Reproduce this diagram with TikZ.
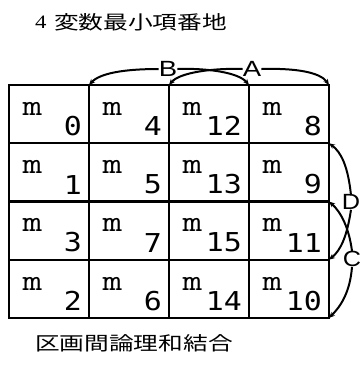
\documentclass[tikz,border=0pt]{standalone}
\usepackage{fontspec}
\setmainfont{Liberation Serif}
\newfontfamily\cjkfont{Noto Sans CJK JP}
\newfontfamily\digfont{DejaVu Sans Mono}
\newfontfamily\letfont{Liberation Sans}
\usetikzlibrary{arrows.meta}
\newcommand\hstretch[2]{\scalebox{#1}[1]{#2}}
\begin{document}
\begin{tikzpicture}[x=1pt,y=-1pt,
  gridline/.style={line width=2.2pt, line cap=rect},
  arcline/.style={line width=2pt, -{Stealth[length=6pt,width=5pt]}},
  mlab/.style={anchor=north west, inner sep=0pt, font=\fontsize{30}{30}\ttfamily},
  dlab/.style={anchor=south east, inner sep=0pt, font=\fontsize{26}{26}\digfont},
  letlab/.style={inner sep=0pt, font=\fontsize{22}{22}\letfont},
  cjklab/.style={anchor=west, inner sep=0pt, font=\fontsize{19}{19}\cjkfont}
]
\useasboundingbox (0,0) rectangle (363,365);
% title and caption
\node[anchor=west, inner sep=0pt, font=\fontsize{19}{19}\selectfont] (four) at (35,22) {\hstretch{1.2}{4}};
\node[cjklab] (title) at (54,22) {\hstretch{1.3}{変数最小項番地}};
\node[cjklab] (caption) at (35,343) {\hstretch{1.3}{区画間論理和結合}};
% grid
\draw[gridline] (9,85) rectangle (329,318);
\foreach \x in {89,169,249} \draw[gridline] (\x,85) -- (\x,318);
\foreach \y in {143.25,201.5,259.75} \draw[gridline] (9,\y) -- (329,\y);
% cell labels
\foreach \n [count=\i from 0] in {0,4,12,8,1,5,13,9,3,7,15,11,2,6,14,10} {
  \pgfmathtruncatemacro\c{mod(\i,4)}
  \pgfmathtruncatemacro\r{int(\i/4)}
  \pgfmathsetmacro\xl{9+80*\c}
  \pgfmathsetmacro\yt{85+58.25*\r}
  \node[mlab] (m\n) at (\xl+13.5,\yt+17) {\hstretch{1.27}{m}};
  \node[dlab] (d\n) at (\xl+73,\yt+51) {\hstretch{1.15}{\n}};
}
% corner coordinates
\coordinate (t1) at (89,85);
\coordinate (t2) at (169,85);
\coordinate (t3) at (249,85);
\coordinate (t4) at (329,85);
\coordinate (r1) at (329,143.25);
\coordinate (r2) at (329,201.5);
\coordinate (r3) at (329,259.75);
\coordinate (r4) at (329,318);
% variable labels
\node[letlab] (B) at (168,69) {\hstretch{1.25}{B}};
\node[letlab] (A) at (252,69) {\hstretch{1.25}{A}};
\node[letlab] (D) at (351,202) {\hstretch{1.15}{D}};
\node[letlab] (C) at (352,259) {\hstretch{1.15}{C}};
% arcs
\draw[arcline] (B.west) .. controls (125,69) and (100,73) .. (t1);
\draw[arcline] (B.east) .. controls (205,68) and (238,72) .. (t3);
\draw[arcline] (A.west) .. controls (215,68) and (180,72) .. (t2);
\draw[arcline] (A.east) .. controls (295,68) and (320,72) .. (t4);
\draw[arcline] ([yshift=-1pt]D.north) .. controls (348,166) and (341,152) .. (r1);
\draw[arcline] (D.south) .. controls (347,236) and (341,250) .. (r3);
\draw[arcline] (C.north) .. controls (349,228) and (341,212) .. (r2);
\draw[arcline] (C.south) .. controls (350,292) and (341,306) .. (r4);
\end{tikzpicture}
\end{document}
